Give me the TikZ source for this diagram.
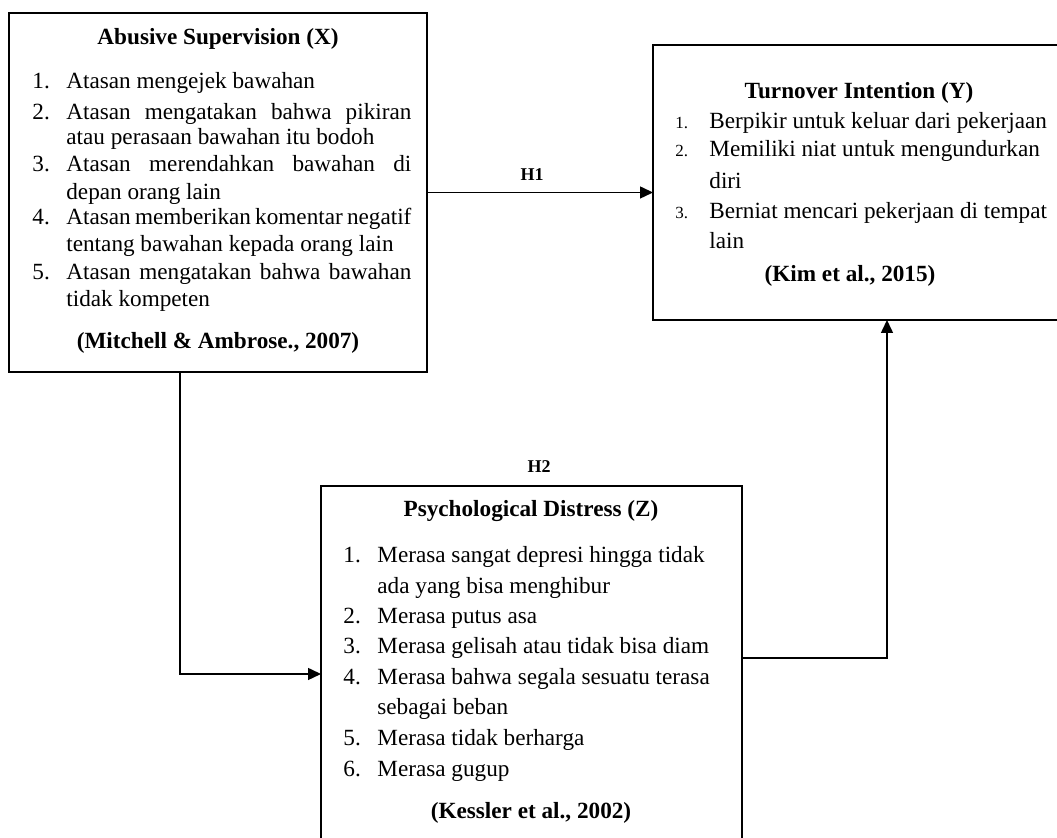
\documentclass[tikz,border=0pt]{standalone}
\usepackage{fontspec}
\setmainfont{Liberation Serif}
\usetikzlibrary{arrows.meta}
\begin{document}
\begin{tikzpicture}[x=0.5pt,y=-0.5pt,
 box/.style={draw, line width=0.9pt, inner sep=0, outer sep=0, rectangle},
 ttl/.style={anchor=base, inner sep=0, font=\fontsize{11.6}{13}\selectfont\bfseries},
 txt/.style={anchor=base west, inner sep=0, font=\fontsize{11.6}{13}\selectfont},
 snum/.style={anchor=base west, inner sep=0, font=\fontsize{8.5}{10}\selectfont},
 hyp/.style={anchor=base, inner sep=0, font=\fontsize{9}{10}\selectfont\bfseries},
 arr/.style={line width=0.75pt, -{Triangle[length=6.5pt,width=6pt]}}]
\clip (0,0) rectangle (1057,838);
\fill[white] (0,0) rectangle (1057,838);
% boxes
\node[box, minimum width=209pt, minimum height=179.5pt] (X) at (218,192.5) {};
\node[box, minimum width=206pt, minimum height=137.5pt] (Y) at (859,182.5) {};
\node[box, minimum width=210.5pt, minimum height=179.5pt] (Z) at (531.5,665.5) {};
% X text
\node[ttl] (xt) at (218,45) {Abusive Supervision (X)};
\node[txt] (xn1) at (32,89) {1.};
\node[txt] (x1) at (66,89) {Atasan mengejek bawahan};
\node[txt] (xn2) at (32,120) {2.};
\node[txt] (x2a) at (66,120) {\makebox[172.5pt][s]{Atasan mengatakan bahwa pikiran}};
\node[txt] (x2b) at (66,145) {atau perasaan bawahan itu bodoh};
\node[txt] (xn3) at (32,172) {3.};
\node[txt] (x3a) at (66,172) {\makebox[172.5pt][s]{Atasan merendahkan bawahan di}};
\node[txt] (x3b) at (66,200) {depan orang lain};
\node[txt] (xn4) at (32,225) {4.};
\node[txt] (x4a) at (66,225) {\makebox[172.5pt][s]{Atasan memberikan komentar negatif}};
\node[txt] (x4b) at (66,252) {tentang bawahan kepada orang lain};
\node[txt] (xn5) at (32,280) {5.};
\node[txt] (x5a) at (66,280) {\makebox[172.5pt][s]{Atasan mengatakan bahwa bawahan}};
\node[txt] (x5b) at (66,307) {tidak kompeten};
\node[ttl] (xr) at (218,349) {(Mitchell \& Ambrose., 2007)};
% Y text
\node[ttl] (yt) at (859,99) {Turnover Intention (Y)};
\node[snum] (yn1) at (675,129) {1.};
\node[txt] (y1) at (709,129) {Berpikir untuk keluar dari pekerjaan};
\node[snum] (yn2) at (675,157) {2.};
\node[txt] (y2a) at (709,157) {Memiliki niat untuk mengundurkan};
\node[txt] (y2b) at (709,189) {diri};
\node[snum] (yn3) at (675,219) {3.};
\node[txt] (y3a) at (709,219) {Berniat mencari pekerjaan di tempat};
\node[txt] (y3b) at (709,249) {lain};
\node[ttl] (yr) at (850,282) {(Kim et al., 2015)};
% Z text
\node[ttl] (zt) at (531,517) {Psychological Distress (Z)};
\node[txt] (zn1) at (343,563) {1.};
\node[txt] (z1a) at (377,563) {Merasa sangat depresi hingga tidak};
\node[txt] (z1b) at (377,594) {ada yang bisa menghibur};
\node[txt] (zn2) at (343,624) {2.};
\node[txt] (z2) at (377,624) {Merasa putus asa};
\node[txt] (zn3) at (343,654) {3.};
\node[txt] (z3) at (377,654) {Merasa gelisah atau tidak bisa diam};
\node[txt] (zn4) at (343,685) {4.};
\node[txt] (z4a) at (377,685) {Merasa bahwa segala sesuatu terasa};
\node[txt] (z4b) at (377,715) {sebagai beban};
\node[txt] (zn5) at (343,746) {5.};
\node[txt] (z5) at (377,746) {Merasa tidak berharga};
\node[txt] (zn6) at (343,777) {6.};
\node[txt] (z6) at (377,777) {Merasa gugup};
\node[ttl] (zr) at (531,819) {(Kessler et al., 2002)};
% hypothesis labels
\node[hyp] (h1) at (532,181) {H1};
\node[hyp] (h2) at (539,473) {H2};
% connectors
\coordinate (a1) at (180,674);
\coordinate (a2) at (887,658);
\draw[arr] (X.east) -- (X.east -| Y.west);
\draw[arr] (a1 |- X.south) -- (a1) -- (a1 -| Z.west);
\draw[arr] (a2 -| Z.east) -- (a2) -- (a2 |- Y.south);
\end{tikzpicture}
\end{document}
